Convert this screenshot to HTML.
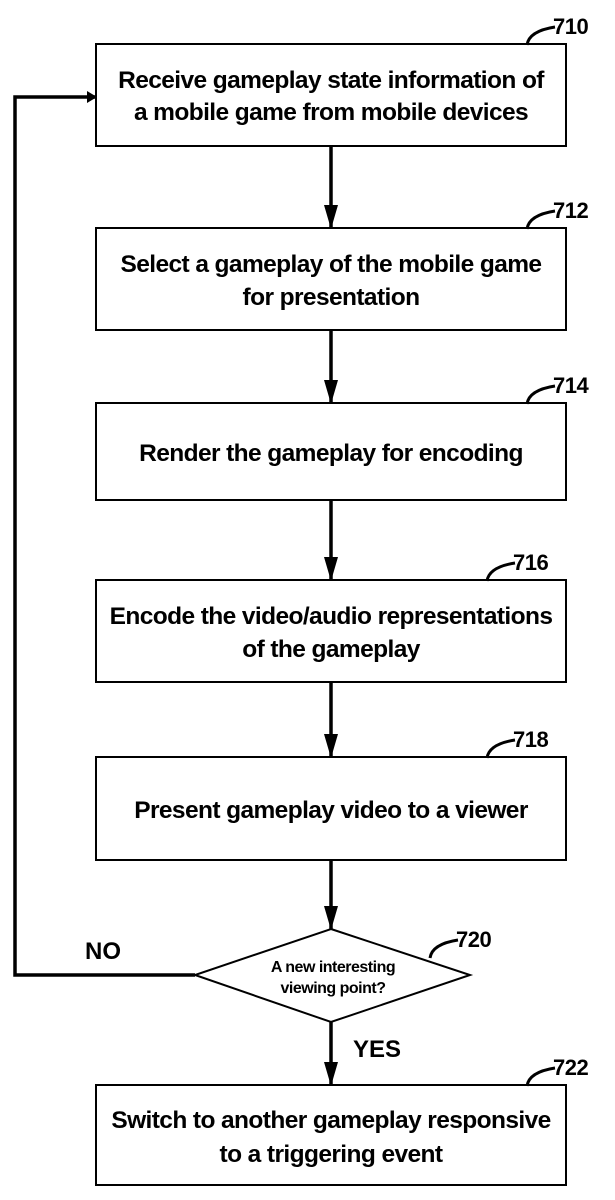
<!DOCTYPE html>
<html><head><style>body{margin:0;background:#fff}svg{display:block}text{font-family:"Liberation Sans",Arial,sans-serif;fill:#000}</style></head><body>
<svg width="615" height="1200" viewBox="0 0 615 1200" xmlns="http://www.w3.org/2000/svg">
<defs><marker id="a" markerWidth="10" markerHeight="12" refX="9" refY="6" orient="auto" markerUnits="userSpaceOnUse"><path d="M0,0 L10,6 L0,12 z" fill="#000"/></marker>
<marker id="d" markerWidth="14" markerHeight="24" refX="7" refY="23" orient="0" markerUnits="userSpaceOnUse"><path d="M0,0 L14,0 L7,24 z" fill="#000"/></marker></defs>
<g fill="none" stroke="#000" stroke-width="2">
<rect x="96" y="44" width="470" height="102"/>
<rect x="96" y="228" width="470" height="102"/>
<rect x="96" y="403" width="470" height="97"/>
<rect x="96" y="580" width="470" height="102"/>
<rect x="96" y="757" width="470" height="103"/>
<polygon points="331,929 470,975 331,1022 195,975"/>
<rect x="96" y="1085" width="470" height="100"/>
</g>
<g stroke="#000" stroke-width="3.5" fill="none">
<line x1="331" y1="146" x2="331" y2="228" marker-end="url(#d)"/>
<line x1="331" y1="330" x2="331" y2="403" marker-end="url(#d)"/>
<line x1="331" y1="500" x2="331" y2="580" marker-end="url(#d)"/>
<line x1="331" y1="682" x2="331" y2="757" marker-end="url(#d)"/>
<line x1="331" y1="860" x2="331" y2="929" marker-end="url(#d)"/>
<line x1="331" y1="1022" x2="331" y2="1085" marker-end="url(#d)"/>
<polyline points="195,975 15,975 15,97 96,97" marker-end="url(#a)"/>
</g>
<g stroke="#000" stroke-width="3" fill="none">
<path d="M527,45 Q529,31 555,27"/>
<path d="M527,229 Q529,215 555,211"/>
<path d="M527,404 Q529,390 555,386"/>
<path d="M487,581 Q489,567 515,563"/>
<path d="M487,758 Q489,744 515,740"/>
<path d="M430,958 Q432,944 458,940"/>
<path d="M527,1086 Q529,1072 555,1068"/>
</g>
<g font-size="22" font-weight="bold" letter-spacing="-0.5">
<text x="553" y="34">710</text><text x="553" y="218">712</text><text x="553" y="393">714</text>
<text x="513" y="570">716</text><text x="513" y="747">718</text><text x="456" y="947">720</text><text x="553" y="1075">722</text>
</g>
<g font-size="24.5" font-weight="bold" text-anchor="middle" letter-spacing="-0.6">
<text x="331" y="88">Receive gameplay state information of</text>
<text x="331" y="120">a mobile game from mobile devices</text>
<text x="331" y="272">Select a gameplay of the mobile game</text>
<text x="331" y="305">for presentation</text>
<text x="331" y="461">Render the gameplay for encoding</text>
<text x="331" y="624">Encode the video/audio representations</text>
<text x="331" y="657">of the gameplay</text>
<text x="331" y="818">Present gameplay video to a viewer</text>
<text x="331" y="1128">Switch to another gameplay responsive</text>
<text x="331" y="1162">to a triggering event</text>
</g>
<g font-size="16" font-weight="bold" text-anchor="middle" letter-spacing="-0.5">
<text x="333" y="972">A new interesting</text><text x="333" y="993">viewing point?</text>
</g>
<text x="85" y="959" font-size="24" font-weight="bold">NO</text>
<text x="353" y="1057" font-size="24" font-weight="bold">YES</text>
</svg>
</body></html>
